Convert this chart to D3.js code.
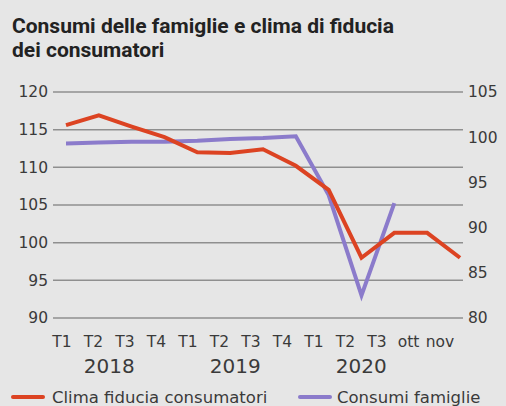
<!DOCTYPE html>
<html>
<head>
<meta charset="utf-8">
<script src="https://cdn.jsdelivr.net/npm/d3@7"></script>
<style>
  body { margin: 0; background: #e6e6e6; }
  svg { display: block; }
  .grid line { stroke: #8f8f8f; stroke-width: 1.5; }
  .lab { font-family: "DejaVu Sans", sans-serif; fill: #3a3a3a; }
</style>
</head>
<body>
<svg id="chart" width="506" height="406"></svg>
<script>
// Periods on the x axis
var periods = ['T1 2018', 'T2 2018', 'T3 2018', 'T4 2018',
               'T1 2019', 'T2 2019', 'T3 2019', 'T4 2019',
               'T1 2020', 'T2 2020', 'T3 2020', 'ott 2020', 'nov 2020'];
var tickLabels = ['T1', 'T2', 'T3', 'T4', 'T1', 'T2', 'T3', 'T4', 'T1', 'T2', 'T3', 'ott', 'nov'];
var years = ['2018', '2019', '2020'];

// Clima fiducia consumatori (left axis)
var clima = [115.6, 116.9, 115.4, 114.0, 112.0, 111.9, 112.4, 110.2, 107.0, 98.0, 101.3, 101.3, 98.0];
// Consumi famiglie (right axis), quarterly only
var consumi = [99.3, 99.4, 99.5, 99.5, 99.6, 99.8, 99.9, 100.1, 93.6, 82.5, 92.7, null, null];

var leftTicks = [90, 95, 100, 105, 110, 115, 120];
var rightTicks = [80, 85, 90, 95, 100, 105];

var title = ['Consumi delle famiglie e clima di fiducia', 'dei consumatori'];
var legendItems = [
    {name: 'Clima fiducia consumatori', color: '#dc4322'},
    {name: 'Consumi famiglie', color: '#8b7bcb'}
];

var svg = d3.select('#chart');

var x = d3.scalePoint().domain(periods).range([66, 460]);
var xLab = d3.scalePoint().domain(d3.range(tickLabels.length)).range([62, 440]);
var yL = d3.scaleLinear().domain([90, 120]).range([318, 92]);
var yR = d3.scaleLinear().domain([80, 105]).range([318, 92]);

// Title
svg.append('g').selectAll('text').data(title).enter().append('text')
    .attr('x', 12)
    .attr('y', (d, i) => 33 + i * 24)
    .style('font-family', 'Roboto, sans-serif')
    .style('font-weight', 700)
    .style('font-size', '21px')
    .style('fill', '#222')
    .text((d) => d);

// Gridlines
svg.append('g').attr('class', 'grid').selectAll('line').data(leftTicks).enter().append('line')
    .attr('x1', 53).attr('x2', 463)
    .attr('y1', (d) => yL(d)).attr('y2', (d) => yL(d));

// Left axis labels
svg.append('g').selectAll('text').data(leftTicks).enter().append('text')
    .attr('class', 'lab')
    .attr('x', 48)
    .attr('y', (d) => yL(d))
    .attr('dy', '0.35em')
    .attr('text-anchor', 'end')
    .style('font-size', '15.5px')
    .text((d) => d);

// Right axis labels
svg.append('g').selectAll('text').data(rightTicks).enter().append('text')
    .attr('class', 'lab')
    .attr('x', 468)
    .attr('y', (d) => yR(d))
    .attr('dy', '0.35em')
    .style('font-size', '15.5px')
    .text((d) => d);

// X labels
svg.append('g').selectAll('text').data(tickLabels).enter().append('text')
    .attr('class', 'lab')
    .attr('x', (d, i) => xLab(i))
    .attr('y', 347)
    .attr('text-anchor', 'middle')
    .style('font-size', '15.5px')
    .text((d) => d);

svg.append('g').selectAll('text').data(years).enter().append('text')
    .attr('class', 'lab')
    .attr('x', (d, i) => (xLab(i * 4 + 1) + xLab(i * 4 + 2)) / 2)
    .attr('y', 373)
    .attr('text-anchor', 'middle')
    .style('font-size', '20px')
    .text((d) => d);

// Lines
var lineL = d3.line().defined((d) => d !== null)
    .x((d, i) => x(periods[i])).y((d) => yL(d));
var lineR = d3.line().defined((d) => d !== null)
    .x((d, i) => x(periods[i])).y((d) => yR(d));

svg.append('path').datum(consumi)
    .attr('d', lineR)
    .attr('fill', 'none')
    .attr('stroke', legendItems[1].color)
    .attr('stroke-width', 4);

svg.append('path').datum(clima)
    .attr('d', lineL)
    .attr('fill', 'none')
    .attr('stroke', legendItems[0].color)
    .attr('stroke-width', 4);

// Legend
var leg = svg.append('g').selectAll('g').data(legendItems).enter().append('g')
    .attr('transform', (d, i) => 'translate(' + (i === 0 ? 13 : 300) + ',397)');
leg.append('line')
    .attr('x1', 0).attr('x2', 30)
    .attr('stroke', (d) => d.color)
    .attr('stroke-width', 4)
    .attr('stroke-linecap', 'round');
leg.append('text')
    .attr('class', 'lab')
    .attr('x', (d, i) => i === 0 ? 39 : 37)
    .attr('dy', '0.35em')
    .style('font-size', '16.5px')
    .text((d) => d.name);
</script>
</body>
</html>
